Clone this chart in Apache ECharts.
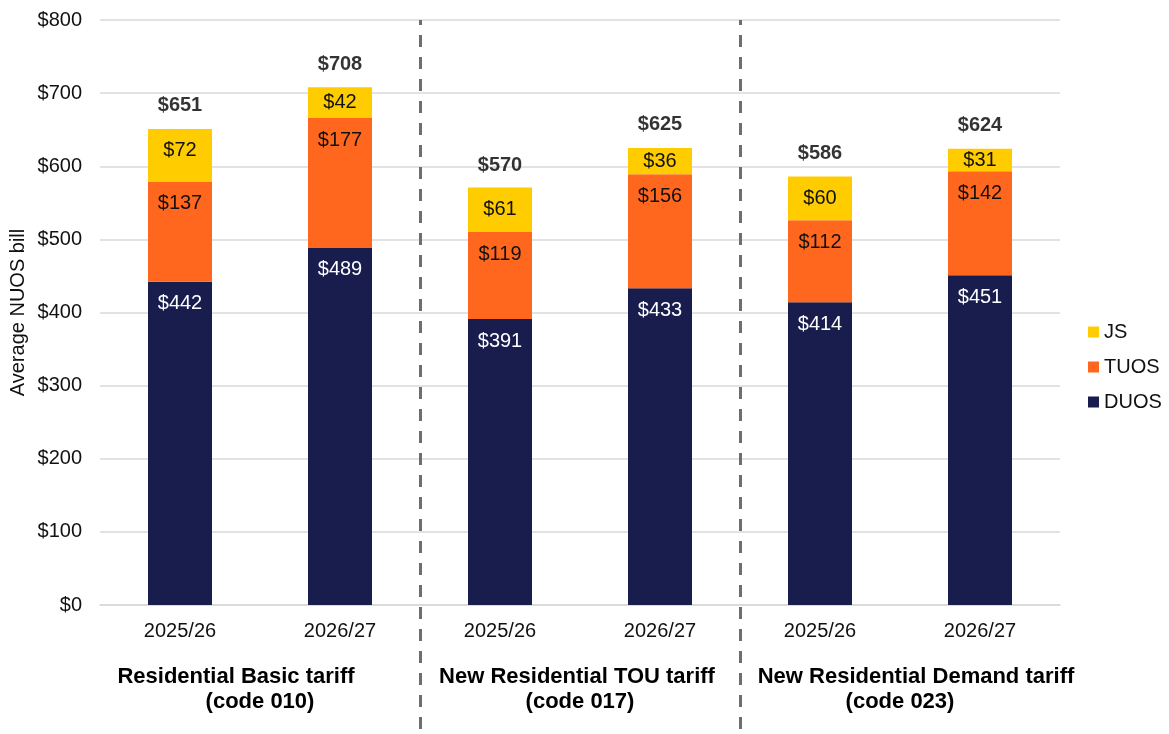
<!DOCTYPE html>
<html>
<head>
<meta charset="utf-8">
<script src="https://cdn.jsdelivr.net/npm/echarts@6/dist/echarts.min.js"></script>
<style>
  html, body { margin: 0; padding: 0; background: #fff; }
  #chart { width: 1169px; height: 734px; }
</style>
</head>
<body>
<div id="chart"></div>
<script>
var years = ["2025/26", "2026/27", "2025/26", "2026/27", "2025/26", "2026/27"];
var groups = ["Residential Basic tariff", "New Residential TOU tariff", "New Residential Demand tariff"];
var codes = ["(code 010)", "(code 017)", "(code 023)"];
var duos = [442, 489, 391, 433, 414, 451];
var tuos = [137, 177, 119, 156, 112, 142];
var js = [72, 42, 61, 36, 60, 31];
var totals = [651, 708, 570, 625, 586, 624];

var chart = echarts.init(document.getElementById("chart"));
var font = "Liberation Sans, Arial, sans-serif";

function money(p) {
  return "$" + p.value;
}

// small segments get their label centred, larger ones near the top
function segData(values) {
  return values.map(function (v) {
    if (v < 50) return { value: v, label: { position: "inside" } };
    return v;
  });
}

function segLabel(color) {
  return {
    show: true,
    position: "insideTop",
    distance: 12,
    formatter: money,
    color: color,
    fontSize: 20,
    fontFamily: font,
  };
}

var groupStyle = { fontSize: 22, fontWeight: "bold", color: "#000", lineHeight: 25 };

var option = {
  animation: false,
  textStyle: { fontFamily: font },
  legend: {
    data: ["JS", "TUOS", "DUOS"],
    orient: "vertical",
    left: 1083,
    top: 317,
    itemWidth: 11,
    itemHeight: 11,
    itemGap: 15,
    icon: "rect",
    textStyle: { fontSize: 20, color: "#111", fontFamily: font },
  },
  grid: [
    { left: 100, right: 109, top: 20, bottom: 129, outerBoundsMode: "none" },
    { left: 100, right: 109, top: 20, bottom: 0, outerBoundsMode: "none" },
  ],
  xAxis: [
    {
      type: "category",
      data: years,
      gridIndex: 0,
      axisLine: { lineStyle: { color: "#d9d9d9", width: 1.5 } },
      axisTick: { show: false },
      axisLabel: { fontSize: 20, color: "#111", margin: 16 },
    },
    {
      type: "category",
      data: groups,
      gridIndex: 1,
      position: "bottom",
      offset: -76,
      axisLine: { show: false },
      axisTick: { show: false },
      axisLabel: {
        margin: 6,
        formatter: function (name, i) {
          return "{a" + i + "|" + name + "}\n{b|" + codes[i] + "}";
        },
        rich: {
          a0: Object.assign({ padding: [0, 48, 0, 0] }, groupStyle),
          a1: Object.assign({ padding: [0, 6, 0, 0] }, groupStyle),
          a2: Object.assign({ padding: [0, 0, 0, 32] }, groupStyle),
          b: groupStyle,
        },
      },
      splitLine: {
        show: true,
        showMinLine: false,
        showMaxLine: false,
        lineStyle: { color: "#6e6e6e", width: 3, type: [12, 10], dashOffset: 7 },
      },
    },
  ],
  yAxis: [
    {
      type: "value",
      gridIndex: 0,
      min: 0,
      max: 800,
      interval: 100,
      name: "Average NUOS bill",
      nameLocation: "middle",
      nameGap: 72,
      nameMoveOverlap: false,
      nameTextStyle: { fontSize: 20, color: "#111" },
      axisLabel: {
        fontSize: 20,
        color: "#111",
        margin: 18,
        formatter: "${value}",
      },
      splitLine: { lineStyle: { color: "#d9d9d9", width: 1.5 } },
    },
    {
      type: "value",
      gridIndex: 1,
      show: false,
      splitLine: { show: false },
    },
  ],
  series: [
    {
      name: "DUOS",
      type: "bar",
      stack: "bill",
      barWidth: 64,
      data: segData(duos),
      itemStyle: { color: "#181d4e" },
      label: segLabel("#ffffff"),
    },
    {
      name: "TUOS",
      type: "bar",
      stack: "bill",
      barWidth: 64,
      data: segData(tuos),
      itemStyle: { color: "#ff671f" },
      label: segLabel("#111111"),
    },
    {
      name: "JS",
      type: "bar",
      stack: "bill",
      barWidth: 64,
      data: segData(js),
      itemStyle: { color: "#ffcc00" },
      label: segLabel("#111111"),
    },
    {
      name: "Total",
      type: "scatter",
      data: totals,
      symbolSize: 0,
      silent: true,
      label: {
        show: true,
        position: "top",
        distance: 13,
        formatter: money,
        fontSize: 20,
        fontWeight: "bold",
        color: "#000",
      },
    },
  ],
};

chart.setOption(option);
</script>
</body>
</html>
